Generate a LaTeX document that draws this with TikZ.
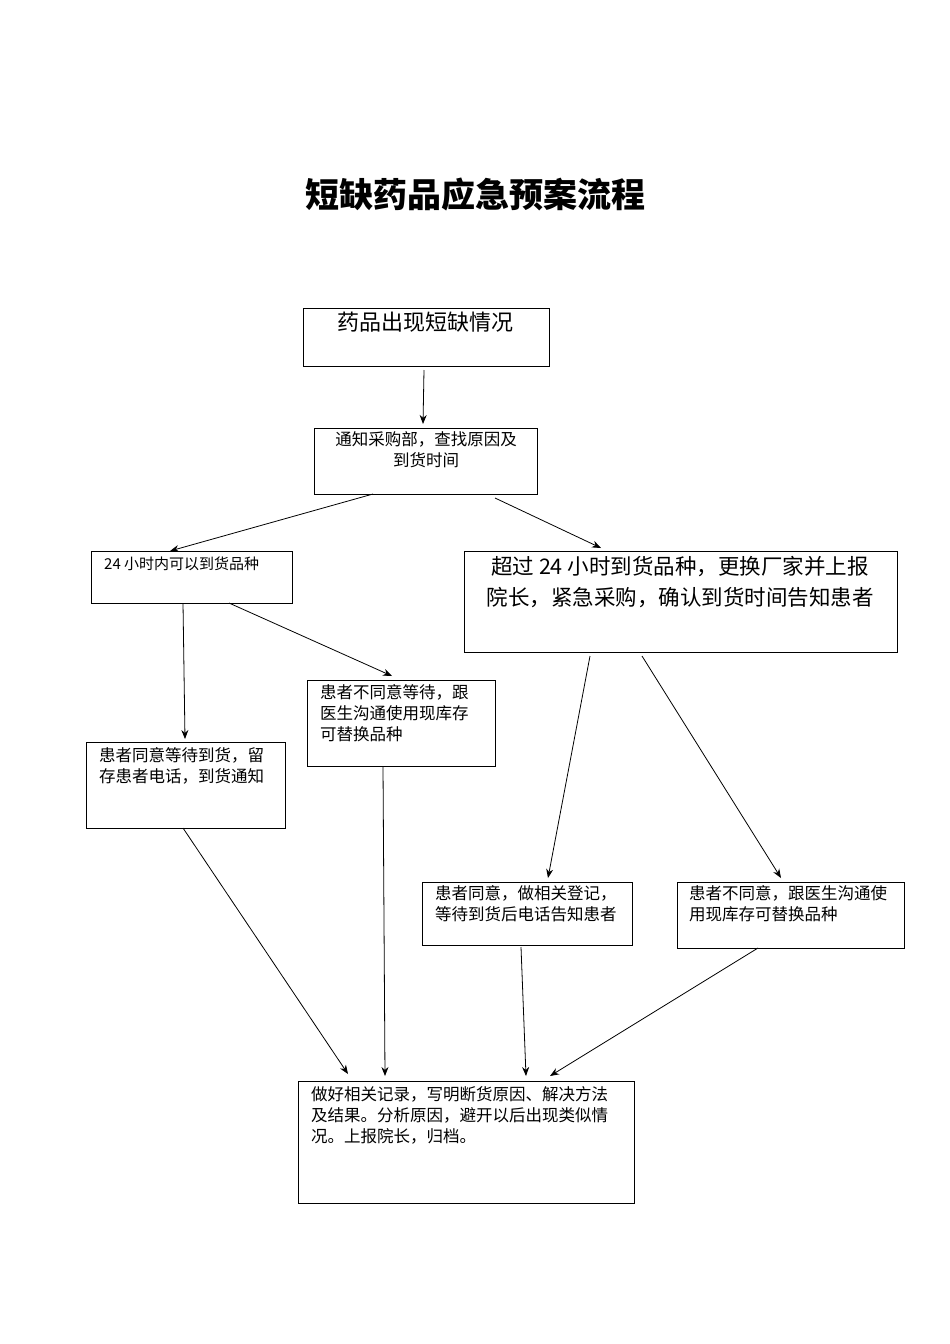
\documentclass[tikz,border=0pt]{standalone}
\usepackage{fontspec}
\setmainfont{Noto Sans CJK SC}
\usetikzlibrary{arrows.meta}
\begin{document}
\begin{tikzpicture}[x=1pt,y=-1pt,
 box/.style={draw,line width=1pt},
 txt/.style={anchor=north west,inner sep=0pt,align=left,font=\fontsize{16.5}{21}\selectfont},
 arr/.style={-{Stealth[length=9pt,width=7pt]},line width=0.8pt}]
\useasboundingbox (0,0) rectangle (950,1344);
\node[inner sep=0pt,font=\fontsize{34}{38}\selectfont\bfseries] (title) at (475,195) {短缺药品应急预案流程};
\draw[box] (303,308) rectangle (549,366);
\node[anchor=north west,inner sep=0pt,font=\fontsize{22}{26}\selectfont] (ta) at (337,312) {药品出现短缺情况};
\draw[box] (314,428) rectangle (537,494);
\node[anchor=north,inner sep=0pt,align=center,font=\fontsize{16.5}{21}\selectfont] (tb) at (426,431) {通知采购部，查找原因及\\到货时间};
\draw[box] (91,551) rectangle (292,603);
\node[txt,font=\fontsize{15}{20}\selectfont] (tc) at (104,557) {24 小时内可以到货品种};
\draw[box] (464,551) rectangle (897,652);
\node[anchor=north,inner sep=0pt,align=center,font=\fontsize{21.5}{31}\selectfont] (td) at (680,556) {超过 24 小时到货品种，更换厂家并上报\\院长，紧急采购，确认到货时间告知患者};
\draw[box] (307,680) rectangle (495,766);
\node[txt] (te) at (320,684) {患者不同意等待，跟\\医生沟通使用现库存\\可替换品种};
\draw[box] (86,742) rectangle (285,828);
\node[txt] (tf) at (99,747) {患者同意等待到货，留\\存患者电话，到货通知};
\draw[box] (422,882) rectangle (632,945);
\node[txt] (tg) at (435,885) {患者同意，做相关登记，\\等待到货后电话告知患者};
\draw[box] (677,882) rectangle (904,948);
\node[txt] (th) at (689,885) {患者不同意，跟医生沟通使\\用现库存可替换品种};
\draw[box] (298,1081) rectangle (634,1203);
\node[txt] (ti) at (311,1086) {做好相关记录，写明断货原因、解决方法\\及结果。分析原因，避开以后出现类似情\\况。上报院长，归档。};
\coordinate (a1) at (424,370); \coordinate (b0) at (423,424);
\coordinate (b1) at (373,494); \coordinate (c0) at (170,551);
\coordinate (b2) at (495,498); \coordinate (d0) at (601,548);
\coordinate (c1) at (183,603); \coordinate (f0) at (185,739);
\coordinate (c2) at (229,603); \coordinate (e0) at (392,676);
\coordinate (d1) at (590,656); \coordinate (g0) at (548,878);
\coordinate (d2) at (642,656); \coordinate (h0) at (781,878);
\coordinate (f1) at (183,828); \coordinate (i1) at (348,1074);
\coordinate (e1) at (383,766); \coordinate (i2) at (385,1076);
\coordinate (g1) at (521,947); \coordinate (i3) at (526,1076);
\coordinate (h1) at (758,948); \coordinate (i4) at (550,1076);
\draw[arr] (a1)--(b0); \draw[arr] (b1)--(c0); \draw[arr] (b2)--(d0);
\draw[arr] (c1)--(f0); \draw[arr] (c2)--(e0); \draw[arr] (d1)--(g0);
\draw[arr] (d2)--(h0); \draw[arr] (f1)--(i1); \draw[arr] (e1)--(i2);
\draw[arr] (g1)--(i3); \draw[arr] (h1)--(i4);
\end{tikzpicture}
\end{document}
